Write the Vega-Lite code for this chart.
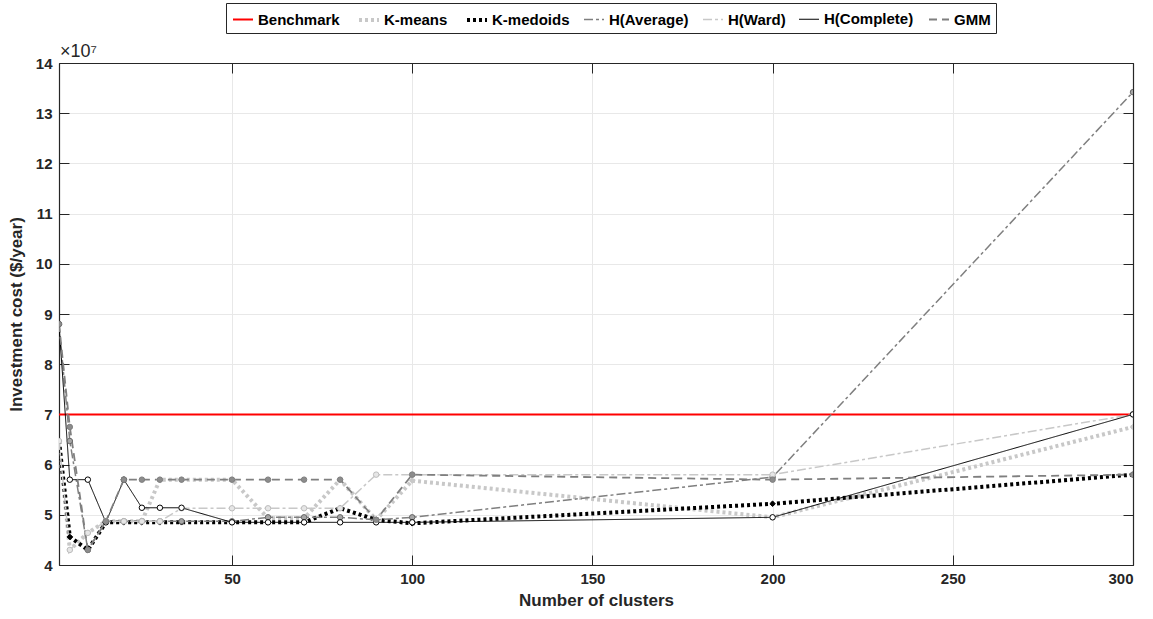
{
  "$schema": "https://vega.github.io/schema/vega-lite/v6.json",
  "width": 1074,
  "height": 502,
  "autosize": {"type": "none"},
  "padding": {"left": 59, "top": 63, "right": 20, "bottom": 54},
  "background": "white",
  "config": {
    "view": {"stroke": "black", "strokeWidth": 1},
    "axis": {
      "labelFont": "Liberation Sans",
      "labelFontWeight": "bold",
      "labelFontSize": 15,
      "labelColor": "#262626",
      "titleFont": "Liberation Sans",
      "titleFontWeight": "bold",
      "titleFontSize": 17,
      "titleColor": "#262626",
      "domainColor": "#262626",
      "domainWidth": 1.2,
      "tickColor": "#262626",
      "tickWidth": 1,
      "gridColor": "#e8e8e8",
      "gridWidth": 1
    },
    "legend": {
      "labelFont": "Liberation Sans",
      "labelFontWeight": "bold",
      "labelFontSize": 15,
      "labelColor": "black"
    }
  },
  "data": {
    "values": [
      {"series": "Benchmark", "clusters": 2, "cost": 70000000},
      {"series": "Benchmark", "clusters": 300, "cost": 70000000},

      {"series": "K-means", "clusters": 2, "cost": 64700000},
      {"series": "K-means", "clusters": 5, "cost": 43000000},
      {"series": "K-means", "clusters": 10, "cost": 46400000},
      {"series": "K-means", "clusters": 15, "cost": 48700000},
      {"series": "K-means", "clusters": 20, "cost": 48700000},
      {"series": "K-means", "clusters": 25, "cost": 48700000},
      {"series": "K-means", "clusters": 30, "cost": 57000000},
      {"series": "K-means", "clusters": 36, "cost": 57000000},
      {"series": "K-means", "clusters": 50, "cost": 57000000},
      {"series": "K-means", "clusters": 60, "cost": 49300000},
      {"series": "K-means", "clusters": 70, "cost": 49300000},
      {"series": "K-means", "clusters": 80, "cost": 57000000},
      {"series": "K-means", "clusters": 90, "cost": 49000000},
      {"series": "K-means", "clusters": 100, "cost": 56800000},
      {"series": "K-means", "clusters": 200, "cost": 49500000},
      {"series": "K-means", "clusters": 300, "cost": 67500000},

      {"series": "K-medoids", "clusters": 2, "cost": 64700000},
      {"series": "K-medoids", "clusters": 5, "cost": 45600000},
      {"series": "K-medoids", "clusters": 10, "cost": 43000000},
      {"series": "K-medoids", "clusters": 15, "cost": 48500000},
      {"series": "K-medoids", "clusters": 20, "cost": 48500000},
      {"series": "K-medoids", "clusters": 25, "cost": 48500000},
      {"series": "K-medoids", "clusters": 30, "cost": 48500000},
      {"series": "K-medoids", "clusters": 36, "cost": 48500000},
      {"series": "K-medoids", "clusters": 50, "cost": 48500000},
      {"series": "K-medoids", "clusters": 60, "cost": 48500000},
      {"series": "K-medoids", "clusters": 70, "cost": 48500000},
      {"series": "K-medoids", "clusters": 80, "cost": 51300000},
      {"series": "K-medoids", "clusters": 90, "cost": 49000000},
      {"series": "K-medoids", "clusters": 100, "cost": 48300000},
      {"series": "K-medoids", "clusters": 200, "cost": 52200000},
      {"series": "K-medoids", "clusters": 300, "cost": 58000000},

      {"series": "H(Average)", "clusters": 2, "cost": 88000000},
      {"series": "H(Average)", "clusters": 5, "cost": 64700000},
      {"series": "H(Average)", "clusters": 10, "cost": 43000000},
      {"series": "H(Average)", "clusters": 15, "cost": 48700000},
      {"series": "H(Average)", "clusters": 20, "cost": 48700000},
      {"series": "H(Average)", "clusters": 25, "cost": 48700000},
      {"series": "H(Average)", "clusters": 30, "cost": 48700000},
      {"series": "H(Average)", "clusters": 36, "cost": 48700000},
      {"series": "H(Average)", "clusters": 50, "cost": 48700000},
      {"series": "H(Average)", "clusters": 60, "cost": 49500000},
      {"series": "H(Average)", "clusters": 70, "cost": 49500000},
      {"series": "H(Average)", "clusters": 80, "cost": 49500000},
      {"series": "H(Average)", "clusters": 90, "cost": 49000000},
      {"series": "H(Average)", "clusters": 100, "cost": 49500000},
      {"series": "H(Average)", "clusters": 200, "cost": 57500000},
      {"series": "H(Average)", "clusters": 300, "cost": 134200000},

      {"series": "H(Ward)", "clusters": 2, "cost": 64700000},
      {"series": "H(Ward)", "clusters": 5, "cost": 43000000},
      {"series": "H(Ward)", "clusters": 10, "cost": 46400000},
      {"series": "H(Ward)", "clusters": 15, "cost": 48700000},
      {"series": "H(Ward)", "clusters": 20, "cost": 48700000},
      {"series": "H(Ward)", "clusters": 25, "cost": 48700000},
      {"series": "H(Ward)", "clusters": 30, "cost": 48700000},
      {"series": "H(Ward)", "clusters": 36, "cost": 51300000},
      {"series": "H(Ward)", "clusters": 50, "cost": 51300000},
      {"series": "H(Ward)", "clusters": 60, "cost": 51300000},
      {"series": "H(Ward)", "clusters": 70, "cost": 51300000},
      {"series": "H(Ward)", "clusters": 80, "cost": 51300000},
      {"series": "H(Ward)", "clusters": 90, "cost": 58000000},
      {"series": "H(Ward)", "clusters": 100, "cost": 58000000},
      {"series": "H(Ward)", "clusters": 200, "cost": 58000000},
      {"series": "H(Ward)", "clusters": 300, "cost": 70000000},

      {"series": "H(Complete)", "clusters": 2, "cost": 88000000},
      {"series": "H(Complete)", "clusters": 5, "cost": 57000000},
      {"series": "H(Complete)", "clusters": 10, "cost": 57000000},
      {"series": "H(Complete)", "clusters": 15, "cost": 48500000},
      {"series": "H(Complete)", "clusters": 20, "cost": 57000000},
      {"series": "H(Complete)", "clusters": 25, "cost": 51400000},
      {"series": "H(Complete)", "clusters": 30, "cost": 51400000},
      {"series": "H(Complete)", "clusters": 36, "cost": 51400000},
      {"series": "H(Complete)", "clusters": 50, "cost": 48500000},
      {"series": "H(Complete)", "clusters": 60, "cost": 48500000},
      {"series": "H(Complete)", "clusters": 70, "cost": 48500000},
      {"series": "H(Complete)", "clusters": 80, "cost": 48500000},
      {"series": "H(Complete)", "clusters": 90, "cost": 48500000},
      {"series": "H(Complete)", "clusters": 100, "cost": 48500000},
      {"series": "H(Complete)", "clusters": 200, "cost": 49500000},
      {"series": "H(Complete)", "clusters": 300, "cost": 70000000},

      {"series": "GMM", "clusters": 2, "cost": 88000000},
      {"series": "GMM", "clusters": 5, "cost": 67500000},
      {"series": "GMM", "clusters": 10, "cost": 43000000},
      {"series": "GMM", "clusters": 15, "cost": 48700000},
      {"series": "GMM", "clusters": 20, "cost": 57000000},
      {"series": "GMM", "clusters": 25, "cost": 57000000},
      {"series": "GMM", "clusters": 30, "cost": 57000000},
      {"series": "GMM", "clusters": 36, "cost": 57000000},
      {"series": "GMM", "clusters": 50, "cost": 57000000},
      {"series": "GMM", "clusters": 60, "cost": 57000000},
      {"series": "GMM", "clusters": 70, "cost": 57000000},
      {"series": "GMM", "clusters": 80, "cost": 57000000},
      {"series": "GMM", "clusters": 90, "cost": 49000000},
      {"series": "GMM", "clusters": 100, "cost": 58000000},
      {"series": "GMM", "clusters": 200, "cost": 57000000},
      {"series": "GMM", "clusters": 300, "cost": 58000000}
    ]
  },
  "resolve": {"axis": {"x": "independent", "y": "independent"}},
  "layer": [
    {
      "mark": {"type": "line", "strokeCap": "butt", "clip": true},
      "encoding": {
        "x": {
          "field": "clusters", "type": "quantitative",
          "scale": {"domain": [2, 300], "nice": false, "zero": false},
          "axis": {
            "title": "Number of clusters",
            "values": [50, 100, 150, 200, 250, 300],
            "tickSize": -10,
            "labelPadding": 16,
            "titlePadding": 6,
            "grid": true
          }
        },
        "y": {
          "field": "cost", "type": "quantitative",
          "scale": {"domain": [40000000, 140000000], "nice": false, "zero": false},
          "axis": {
            "title": "Investment cost ($/year)",
            "values": [40000000, 50000000, 60000000, 70000000, 80000000, 90000000, 100000000, 110000000, 120000000, 130000000, 140000000],
            "labelExpr": "datum.value / 10000000",
            "tickSize": -10,
            "labelPadding": 17,
            "titlePadding": 10,
            "grid": true
          }
        },
        "color": {
          "field": "series", "type": "nominal",
          "scale": {
            "domain": ["Benchmark", "K-means", "K-medoids", "H(Average)", "H(Ward)", "H(Complete)", "GMM"],
            "range": ["#ff0000", "#c8c8c8", "#000000", "#7f7f7f", "#c8c8c8", "#000000", "#7f7f7f"]
          },
          "legend": {
            "title": null,
            "orient": "none",
            "legendX": 167,
            "legendY": -60,
            "direction": "horizontal",
            "columns": 7,
            "symbolType": "stroke",
            "symbolSize": 400,
            "labelOffset": 3,
            "columnPadding": 11,
            "strokeColor": "#262626",
            "fillColor": "white",
            "padding": 5
          }
        },
        "strokeDash": {
          "field": "series", "type": "nominal",
          "scale": {
            "domain": ["Benchmark", "K-means", "K-medoids", "H(Average)", "H(Ward)", "H(Complete)", "GMM"],
            "range": [[1, 0], [3, 3], [3, 3], [9, 3, 3, 3], [9, 3, 3, 3], [1, 0], [8, 5]]
          },
          "legend": null
        },
        "strokeWidth": {
          "field": "series", "type": "nominal",
          "scale": {
            "type": "ordinal",
            "domain": ["Benchmark", "K-means", "K-medoids", "H(Average)", "H(Ward)", "H(Complete)", "GMM"],
            "range": [2, 4, 4, 1.5, 1.5, 1, 1.8]
          },
          "legend": null
        }
      }
    },
    {
      "transform": [{"filter": "datum.series !== 'Benchmark'"}],
      "mark": {"type": "point", "filled": true, "size": 30, "strokeWidth": 1, "opacity": 1, "clip": true},
      "encoding": {
        "x": {
          "field": "clusters", "type": "quantitative",
          "axis": {"orient": "top", "title": null, "labels": false, "grid": false, "values": [50, 100, 150, 200, 250, 300], "tickSize": -10}
        },
        "y": {
          "field": "cost", "type": "quantitative",
          "axis": {"orient": "right", "title": null, "labels": false, "grid": false, "values": [40000000, 50000000, 60000000, 70000000, 80000000, 90000000, 100000000, 110000000, 120000000, 130000000, 140000000], "tickSize": -10}
        },
        "shape": {
          "field": "series", "type": "nominal",
          "scale": {
            "domain": ["K-means", "K-medoids", "H(Average)", "H(Ward)", "H(Complete)", "GMM"],
            "range": ["diamond", "diamond", "circle", "circle", "circle", "circle"]
          },
          "legend": null
        },
        "fill": {
          "field": "series", "type": "nominal",
          "scale": {
            "domain": ["K-means", "K-medoids", "H(Average)", "H(Ward)", "H(Complete)", "GMM"],
            "range": ["#c8c8c8", "#000000", "#a6a6a6", "#e6e6e6", "#ffffff", "#8c8c8c"]
          },
          "legend": null
        },
        "stroke": {
          "field": "series", "type": "nominal",
          "scale": {
            "domain": ["K-means", "K-medoids", "H(Average)", "H(Ward)", "H(Complete)", "GMM"],
            "range": ["#c8c8c8", "#000000", "#666666", "#bdbdbd", "#000000", "#7f7f7f"]
          },
          "legend": null
        }
      }
    },
    {
      "data": {"values": [{"label": "×10⁷"}]},
      "mark": {"type": "text", "align": "left", "baseline": "alphabetic", "dx": 1, "dy": -6, "font": "Liberation Sans", "fontSize": 18, "fontWeight": "normal", "fill": "#262626"},
      "encoding": {
        "x": {"datum": 2, "type": "quantitative", "axis": null},
        "y": {"datum": 140000000, "type": "quantitative", "axis": null},
        "text": {"field": "label", "type": "nominal"}
      }
    }
  ]
}
